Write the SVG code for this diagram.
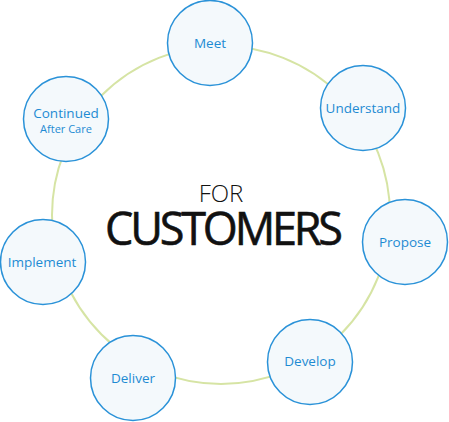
<svg xmlns="http://www.w3.org/2000/svg" width="449" height="422" viewBox="0 0 449 422">
<style>
.node{fill:#f4f9fc;stroke:#2a92d8;stroke-width:1.5}
.lbl{font-family:"Open Sans","Noto Sans",sans-serif;font-size:13.5px;fill:#1e8bd3;text-anchor:middle}
.sm{font-size:11px}
.ring{fill:none;stroke:#d6e4a4;stroke-width:2}
.c{font-family:"Open Sans","Noto Sans",sans-serif;fill:#111;text-anchor:middle}
</style>
<rect width="449" height="422" fill="#fff"/>
<g id="connectors"><circle class="ring" cx="221" cy="215" r="169"/></g>
<g id="center"><text class="c" x="221" y="202" font-size="24" font-weight="300">FOR</text>
<text class="c" x="224" y="245" font-size="45" stroke="#111" stroke-width="0.6" textLength="238" lengthAdjust="spacing">CUSTOMERS</text></g>
<g id="meet"><circle class="node" cx="210" cy="43" r="42.5"/><text class="lbl" x="210" y="48">Meet</text></g>
<g id="understand"><circle class="node" cx="363" cy="108" r="42.5"/><text class="lbl" x="363" y="113">Understand</text></g>
<g id="propose"><circle class="node" cx="405" cy="242" r="42.5"/><text class="lbl" x="405" y="247">Propose</text></g>
<g id="develop"><circle class="node" cx="310" cy="362" r="42.5"/><text class="lbl" x="310" y="366">Develop</text></g>
<g id="deliver"><circle class="node" cx="133" cy="378" r="42.5"/><text class="lbl" x="133" y="383">Deliver</text></g>
<g id="implement"><circle class="node" cx="43" cy="262" r="42.5"/><text class="lbl" x="42" y="267">Implement</text></g>
<g id="continued"><circle class="node" cx="66" cy="119" r="42.5"/><text class="lbl" x="66" y="118">Continued</text><text class="lbl sm" x="66" y="133">After Care</text></g>
</svg>
